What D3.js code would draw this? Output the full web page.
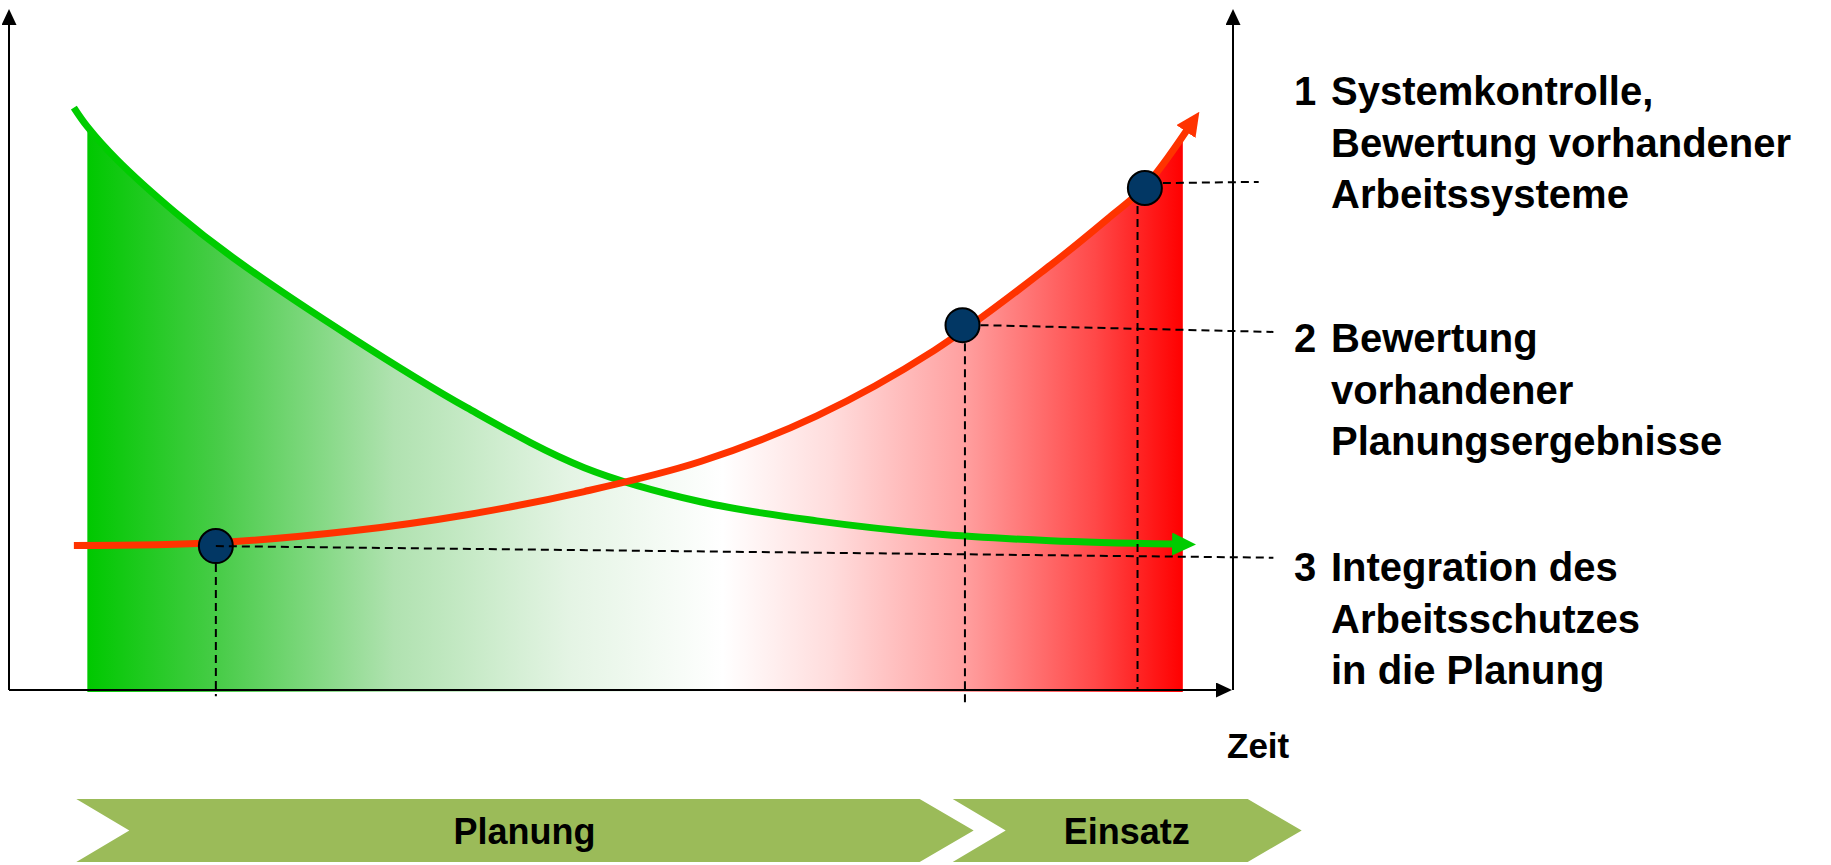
<!DOCTYPE html>
<html>
<head>
<meta charset="utf-8">
<script src="https://cdn.jsdelivr.net/npm/d3@7"></script>
<style>
  html, body { margin: 0; padding: 0; background: #fff; }
  svg { display: block; font-family: "Liberation Sans", Arial, sans-serif; font-weight: bold; }
</style>
</head>
<body>
<svg id="chart" width="1831" height="865"></svg>
<script>
// falling curve (green) and rising curve (red), time 0..100, value 0..100
const greenX = [5.3, 6.4, 8.8, 13.6, 18.3, 27.9, 37.4, 47.0, 56.5, 66.0, 75.6, 85.1, 95.1];
const greenY = [85.4, 82.6, 77.8, 70.0, 63.4, 51.8, 41.4, 32.6, 27.6, 24.8, 22.9, 21.9, 21.4];
const redX = [5.3, 16.9, 27.9, 37.4, 47.0, 56.5, 66.0, 75.6, 85.1, 89.9, 92.8, 96.2];
const redY = [21.2, 21.6, 23.3, 25.7, 29.1, 33.5, 40.2, 49.8, 62.3, 69.3, 73.8, 82.0];

// shaded band under both curves
const fillRange = [6.4, 95.9];

// milestones on the curves
const pointX = [92.8, 77.9, 16.9];
const pointY = [73.6, 53.5, 21.1];
const dropX = [92.2, 78.1, 16.9];      // vertical guide position
const dropEnd = [0, -2, -0.9];         // where the vertical guide stops
const guideEndX = [102.1, 103.3, 103.3];
const guideEndY = [74.5, 52.5, 19.4];

const labelNums = ['1', '2', '3'];
const labelLines = [
  ['Systemkontrolle,', 'Bewertung vorhandener', 'Arbeitssysteme'],
  ['Bewertung', 'vorhandener', 'Planungsergebnisse'],
  ['Integration des', 'Arbeitsschutzes', 'in die Planung']
];

const phases = ['Planung', 'Einsatz'];
const phaseStart = [5.5, 77.1];
const phaseEnd = [74.4, 101.2];

const xTitle = 'Zeit';

const svg = d3.select('#chart');

const x = d3.scaleLinear().domain([0, 100]).range([9, 1233]);
const y = d3.scaleLinear().domain([0, 100]).range([690, 8]);

const defs = svg.append('defs');

// gradient green -> white -> red
const grad = defs.append('linearGradient')
    .attr('id', 'band')
    .attr('gradientUnits', 'userSpaceOnUse')
    .attr('x1', x(fillRange[0])).attr('x2', x(fillRange[1]))
    .attr('y1', 0).attr('y2', 0);
[[0, '#00c800'], [0.12, '#48cc48'], [0.28, '#b0e2b0'], [0.44, '#e4f4e4'], [0.58, '#ffffff'],
 [0.68, '#ffdcdc'], [0.8, '#ffa0a0'], [0.92, '#ff4848'], [1, '#ff0000']]
  .forEach(s => grad.append('stop').attr('offset', s[0]).attr('stop-color', s[1]));

function arrow(id, color, len, wid) {
  defs.append('marker')
      .attr('id', id)
      .attr('markerUnits', 'userSpaceOnUse')
      .attr('viewBox', `0 0 ${len} ${wid}`)
      .attr('markerWidth', len).attr('markerHeight', wid)
      .attr('refX', 1).attr('refY', wid / 2)
      .attr('orient', 'auto')
    .append('path')
      .attr('d', `M0,0L${len},${wid / 2}L0,${wid}Z`)
      .attr('fill', color);
}
arrow('axisArrow', '#000', 16, 15);
arrow('greenArrow', '#00cc00', 24, 23);
arrow('redArrow', '#ff3300', 24, 23);

const green = greenX.map((v, i) => [v, greenY[i]]);
const red = redX.map((v, i) => [v, redY[i]]);

const curve = d3.curveCatmullRom.alpha(0.5);
const line = d3.line().x(d => x(d[0])).y(d => y(d[1])).curve(curve);
const area = d3.area().x(d => x(d[0])).y0(y(-0.3)).y1(d => y(d[1])).curve(curve);

// clip = area under green ∪ area under red
const clip = defs.append('clipPath').attr('id', 'under');
clip.append('path').attr('d', area(green));
clip.append('path').attr('d', area(red));

svg.append('rect')
    .attr('x', x(fillRange[0]))
    .attr('width', x(fillRange[1]) - x(fillRange[0]))
    .attr('y', 0)
    .attr('height', y(-0.5))
    .attr('fill', 'url(#band)')
    .attr('clip-path', 'url(#under)');

// axes
const axes = svg.append('g').attr('stroke', '#000').attr('stroke-width', 2);
axes.append('line')
    .attr('x1', x(0)).attr('y1', y(0))
    .attr('x2', x(0)).attr('y2', y(100) + 16)
    .attr('marker-end', 'url(#axisArrow)');
axes.append('line')
    .attr('x1', x(100)).attr('y1', y(0))
    .attr('x2', x(100)).attr('y2', y(100) + 16)
    .attr('marker-end', 'url(#axisArrow)');
axes.append('line')
    .attr('x1', x(0)).attr('y1', y(0))
    .attr('x2', x(100) - 16).attr('y2', y(0))
    .attr('marker-end', 'url(#axisArrow)');

// curves
svg.append('path')
    .attr('d', line(green))
    .attr('fill', 'none')
    .attr('stroke', '#00cc00')
    .attr('stroke-width', 7)
    .attr('marker-end', 'url(#greenArrow)');
svg.append('path')
    .attr('d', line(red))
    .attr('fill', 'none')
    .attr('stroke', '#ff3300')
    .attr('stroke-width', 7)
    .attr('marker-end', 'url(#redArrow)');

// milestone points
svg.append('g')
  .selectAll('circle')
  .data(pointX)
  .join('circle')
    .attr('cx', d => x(d))
    .attr('cy', (d, i) => y(pointY[i]))
    .attr('r', 17)
    .attr('fill', '#023764')
    .attr('stroke', '#000')
    .attr('stroke-width', 2);

// dashed guides
const guides = svg.append('g')
    .attr('stroke', '#000')
    .attr('stroke-width', 2)
    .attr('stroke-dasharray', '8,5')
    .attr('fill', 'none');
pointX.forEach((px, i) => {
  const startX = i === 2 ? x(px) : x(px) + 18;
  guides.append('line')
      .attr('x1', startX).attr('y1', y(pointY[i]) + (i === 0 ? -5 : 0))
      .attr('x2', x(guideEndX[i])).attr('y2', y(guideEndY[i]));
  guides.append('line')
      .attr('x1', x(dropX[i])).attr('y1', y(pointY[i]) + 18)
      .attr('x2', x(dropX[i])).attr('y2', y(dropEnd[i]));
});

// labels on the right
const labelTop = [105, 352, 581];
const lineGap = 51.5;
const labels = svg.append('g').attr('font-size', 40).attr('fill', '#000');
labelLines.forEach((lines, i) => {
  labels.append('text')
      .attr('x', 1294).attr('y', labelTop[i])
      .text(labelNums[i]);
  const t = labels.append('text').attr('x', 1331).attr('y', labelTop[i]);
  lines.forEach((s, j) => {
    t.append('tspan').attr('x', 1331).attr('y', labelTop[i] + j * lineGap).text(s);
  });
});

svg.append('text')
    .attr('x', 1227).attr('y', 758)
    .attr('font-size', 35)
    .text(xTitle);

// phase chevrons
const chevTop = 799, chevBot = 862, chevMid = (chevTop + chevBot) / 2;
const phase = svg.append('g');
phases.forEach((name, i) => {
  const a = x(phaseStart[i]), b = x(phaseEnd[i]);
  const notch = 53, tip = 54;
  phase.append('path')
      .attr('d', `M${a},${chevTop}L${b},${chevTop}L${b + tip},${chevMid}L${b},${chevBot}L${a},${chevBot}L${a + notch},${chevMid}Z`)
      .attr('fill', '#9bbb59');
  phase.append('text')
      .attr('x', (a + notch + b) / 2)
      .attr('y', 844)
      .attr('text-anchor', 'middle')
      .attr('font-size', 36)
      .text(name);
});
</script>
</body>
</html>
